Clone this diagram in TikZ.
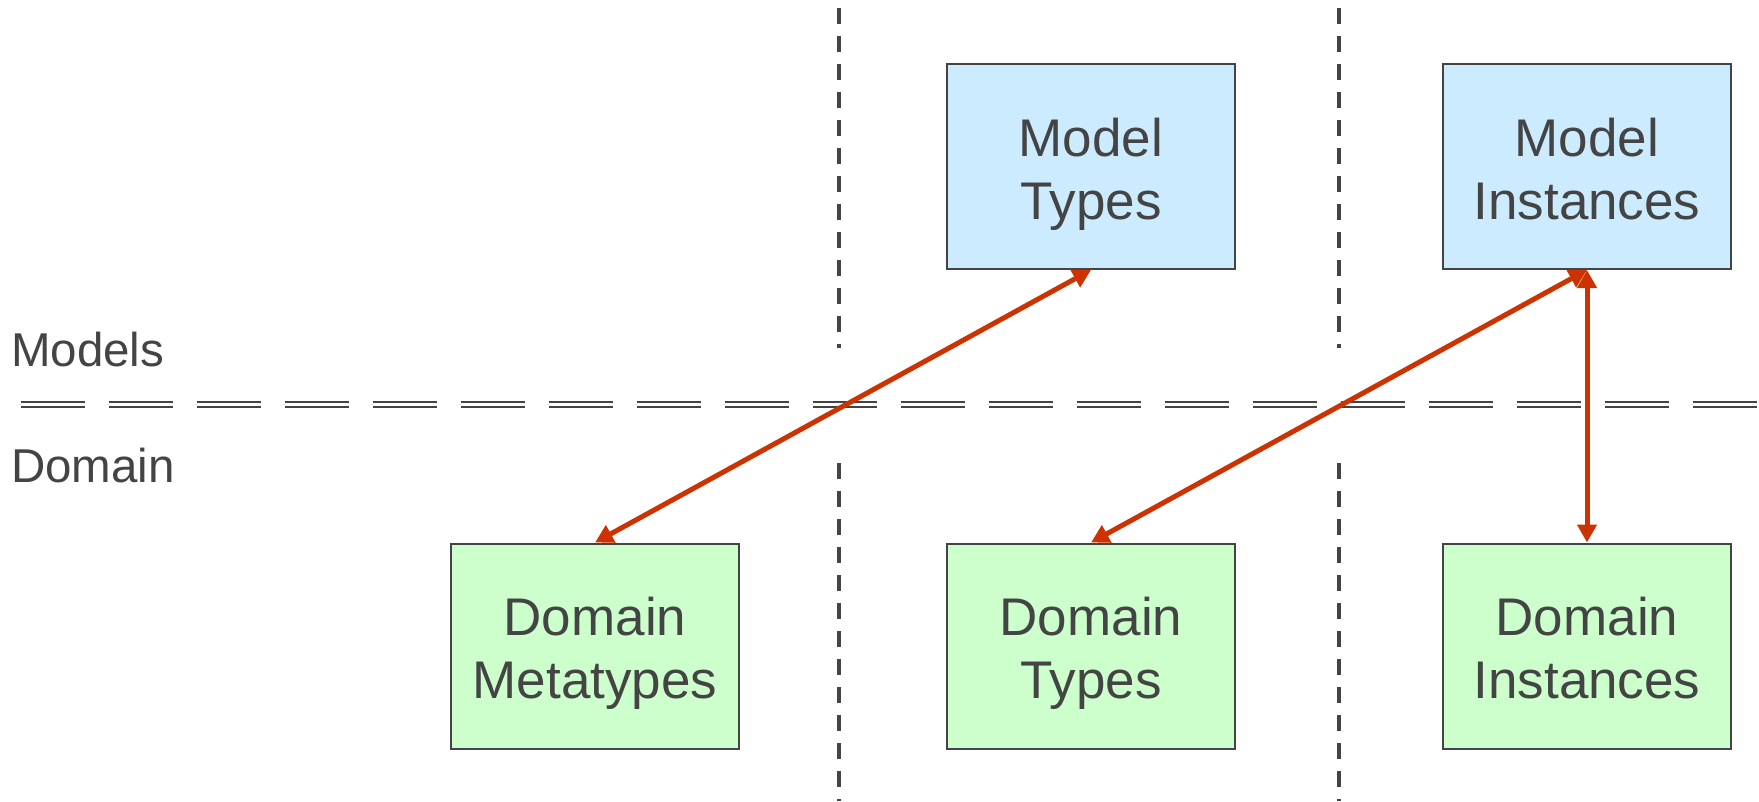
\documentclass[tikz,border=0pt]{standalone}
\usepackage{fontspec}
\setmainfont{Liberation Sans}
\usetikzlibrary{arrows.meta}
\definecolor{txt}{HTML}{444444}
\definecolor{bluefill}{HTML}{CCEBFF}
\definecolor{greenfill}{HTML}{CCFFCC}
\definecolor{arrowred}{HTML}{CC3300}
\tikzset{
  box/.style={draw=txt, line width=2pt, minimum width=288pt, minimum height=205pt,
    align=center, text=txt, inner sep=0pt, text height=115pt, text depth=10pt,
    font=\fontsize{53}{63}\selectfont},
  modelbox/.style={box, fill=bluefill},
  domainbox/.style={box, fill=greenfill},
  sidelabel/.style={anchor=base west, text=txt, inner sep=0pt, font=\fontsize{47.5}{57}\selectfont},
  vdash/.style={draw=txt, line width=3.5pt, dash pattern=on 16pt off 12pt},
  hsep/.style={draw=txt, line width=2.3pt, double=white, double distance=3pt, dash pattern=on 64pt off 24pt},
  link/.style={draw=arrowred, line width=5pt, {Triangle[width=19pt,length=18pt]}-{Triangle[width=19pt,length=18pt]}}
}
\begin{document}
\begin{tikzpicture}[x=1pt,y=-1pt]
\useasboundingbox (0,0) rectangle (1759,801);
% vertical dashed separators
\draw[vdash] (839,8) -- (839,348);
\draw[vdash] (839,463) -- (839,801);
\draw[vdash] (1339,8) -- (1339,348);
\draw[vdash] (1339,463) -- (1339,801);
% horizontal double dashed separator
\draw[hsep] (21,404.3) -- (1759,404.3);
% labels
\node[sidelabel] (models) at (11,366) {Models};
\node[sidelabel] (domain) at (11,482) {Domain};
% boxes
\node[modelbox] (mt) at (1091,166.5) {Model\\Types};
\node[modelbox] (mi) at (1587,166.5) {Model\\Instances};
\node[domainbox] (dm) at (595,646) {Domain\\Metatypes};
\node[domainbox] (dt) at (1091,646) {Domain\\Types};
\node[domainbox] (di) at (1587,646) {Domain\\Instances};
% links
\draw[link] (dm.north) -- (mt.south);
\draw[link] (dt.north) -- (mi.south);
\draw[link] (di.north) -- (mi.south);
\end{tikzpicture}
\end{document}
